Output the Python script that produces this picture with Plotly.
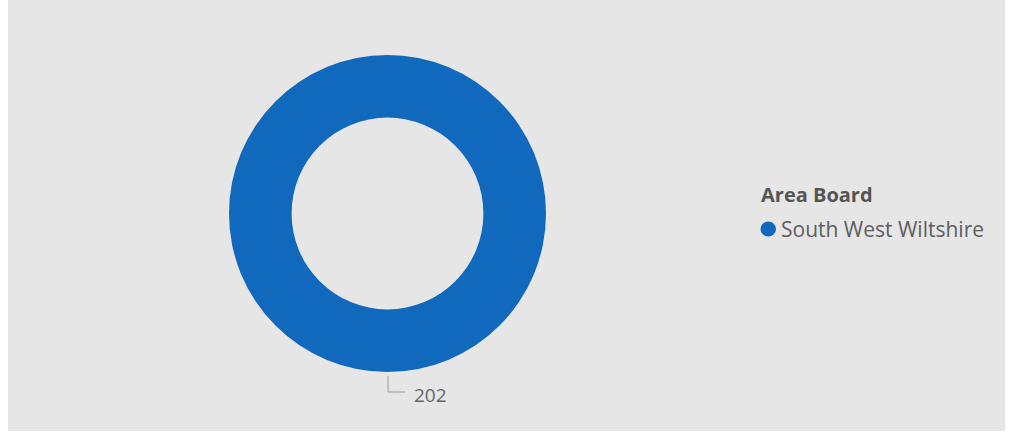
import plotly.graph_objects as go

W, H = 1013, 440

categories = ["South West Wiltshire"]
values = [202]
legend_title = "Area Board"
colors = ["#1169BE"]

FONT = "Segoe UI, Open Sans, sans-serif"

def px_x(p):
    return p / W

def px_y(p):
    return 1 - p / H

fig = go.Figure()

# donut
cx, cy, r = 387.5, 213.5, 158.5
fig.add_trace(go.Pie(
    labels=categories,
    values=values,
    hole=0.605,
    marker=dict(colors=colors, line=dict(width=0)),
    textinfo="none",
    sort=False,
    direction="clockwise",
    showlegend=False,
    domain=dict(x=[px_x(cx - r), px_x(cx + r)], y=[px_y(cy + r), px_y(cy - r)]),
    hoverinfo="label+value",
))

# data label with elbow leader line at the bottom of the ring
label_y = 392
shapes = [
    dict(type="rect", xref="paper", yref="paper",
         x0=px_x(8), x1=px_x(1005), y0=px_y(431), y1=px_y(0),
         fillcolor="#E6E6E6", line=dict(width=0), layer="below"),
    dict(type="line", xref="paper", yref="paper",
         x0=px_x(388), x1=px_x(388), y0=px_y(376), y1=px_y(label_y),
         line=dict(color="#9A9A9A", width=1)),
    dict(type="line", xref="paper", yref="paper",
         x0=px_x(388), x1=px_x(405), y0=px_y(label_y), y1=px_y(label_y),
         line=dict(color="#9A9A9A", width=1)),
]

annotations = [
    dict(text=str(values[0]), xref="paper", yref="paper",
         x=px_x(412), y=px_y(395), xanchor="left", yanchor="middle",
         showarrow=False, font=dict(size=19, color="#666666", family=FONT)),
    dict(text="<b>" + legend_title + "</b>", xref="paper", yref="paper",
         x=px_x(759), y=px_y(194), xanchor="left", yanchor="middle",
         showarrow=False, font=dict(size=20, color="#555555", family=FONT)),
]

# legend items (circle symbol + label)
item_y0 = 229
for i, (cat, col) in enumerate(zip(categories, colors)):
    yy = item_y0 + i * 30
    shapes.append(dict(type="circle", xref="paper", yref="paper",
                       x0=px_x(760.5), x1=px_x(776), y0=px_y(yy + 7.5), y1=px_y(yy - 7.5),
                       fillcolor=col, line=dict(width=0)))
    annotations.append(dict(text=cat, xref="paper", yref="paper",
                            x=px_x(779), y=px_y(yy), xanchor="left", yanchor="middle",
                            showarrow=False, font=dict(size=21, color="#5E5E5E", family=FONT)))

fig.update_layout(
    width=W, height=H,
    margin=dict(l=0, r=0, t=0, b=0),
    paper_bgcolor="white",
    plot_bgcolor="rgba(0,0,0,0)",
    shapes=shapes,
    annotations=annotations,
    font=dict(family=FONT),
    showlegend=False,
)

fig.write_html("out.html", config={"displayModeBar": False},
               post_script="document.body.style.margin='0';")
